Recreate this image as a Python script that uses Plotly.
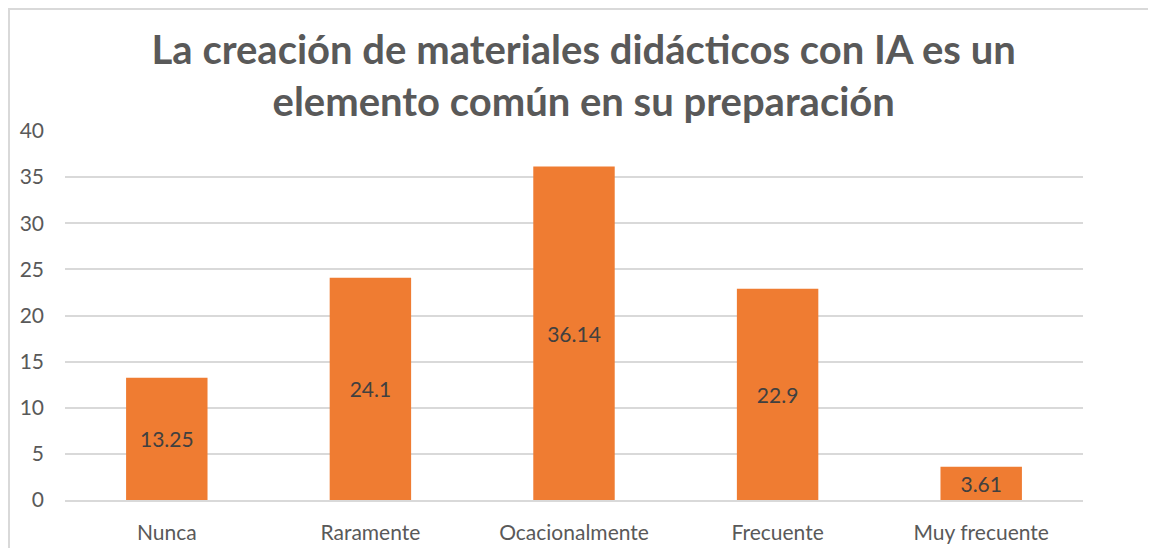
import plotly.graph_objects as go

categories = ["Nunca", "Raramente", "Ocacionalmente", "Frecuente", "Muy frecuente"]
values = [13.25, 24.1, 36.14, 22.9, 3.61]
labels = ["13.25", "24.1", "36.14", "22.9", "3.61"]
y_ticks = [0, 5, 10, 15, 20, 25, 30, 35, 40]

title_text = "La creación de materiales didácticos con IA es un<br>elemento común en su preparación"

FONT = "Lato"
GRAY = "#595959"

# plot area in figure pixels
L, R, T, B = 57, 81, 123, 56
W, H = 1156, 548
PW, PH = W - L - R, H - T - B

fig = go.Figure()
fig.add_trace(go.Bar(
    x=categories,
    y=values,
    text=labels,
    textposition="inside",
    insidetextanchor="middle",
    constraintext="none",
    textfont=dict(family=FONT, size=21, color="#404040"),
    marker=dict(color="#EF7C32", line=dict(width=0)),
    width=0.4,
    hoverinfo="x+y",
))

fig.update_layout(
    width=W,
    height=H,
    paper_bgcolor="white",
    plot_bgcolor="white",
    margin=dict(l=L, r=R, t=T, b=B, autoexpand=False),
    showlegend=False,
    title=dict(
        text=title_text,
        font=dict(family=FONT, size=40, color=GRAY, weight="bold"),
        x=0.498, xref="container", xanchor="center",
        y=0.898, yref="container", yanchor="top",
        automargin=False,
    ),
    xaxis=dict(
        showgrid=False,
        showline=True,
        linecolor="#d9d9d9",
        linewidth=1.5,
        tickfont=dict(family=FONT, size=21, color=GRAY),
        ticklabelstandoff=13,
        ticks="",
        automargin=False,
        fixedrange=True,
    ),
    yaxis=dict(
        range=[0, 40],
        tickvals=y_ticks,
        showgrid=True,
        gridcolor="#d9d9d9",
        gridwidth=1.5,
        zeroline=False,
        showline=False,
        tickfont=dict(family=FONT, size=21, color=GRAY),
        ticklabelstandoff=20,
        ticks="",
        automargin=False,
        fixedrange=True,
    ),
    shapes=[dict(
        type="rect", xref="paper", yref="paper",
        x0=(1 - L) / PW, x1=1.2, y0=-0.5, y1=(T + PH - 1) / PH,
        line=dict(color="#d9d9d9", width=2), fillcolor="rgba(0,0,0,0)",
        layer="below",
    )],
)

fig.write_html("out.html")
